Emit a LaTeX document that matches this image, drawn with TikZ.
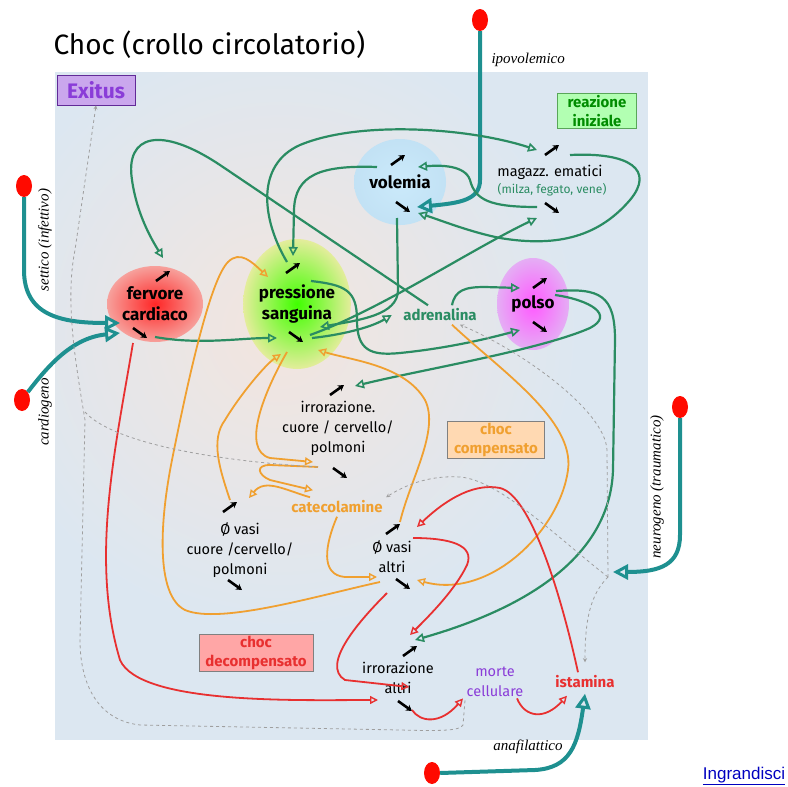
\documentclass[tikz,border=0pt]{standalone}
\usepackage{fontspec}
\setmainfont{Fira Sans}
\newfontfamily\causefont{Liberation Serif}
\newfontfamily\linkfont{Liberation Sans}
\usetikzlibrary{arrows.meta,shapes.geometric,positioning}

\definecolor{causecol}{HTML}{1E9090}
\definecolor{grn}{HTML}{2A8C62}
\definecolor{org}{HTML}{F0A030}
\definecolor{rd}{HTML}{E83030}
\definecolor{panel}{HTML}{DCE7F1}
\definecolor{warm}{HTML}{F3E5DE}
\definecolor{viol}{HTML}{8A3CD8}
\definecolor{sky}{HTML}{A8DCF8}

\tikzset{
  gline/.style={draw=grn, line width=2.2pt, -{Triangle[open,length=9pt,width=9pt,line width=1.6pt]}},
  oline/.style={draw=org, line width=1.8pt, -{Triangle[open,length=8pt,width=8pt,line width=1.4pt]}},
  rline/.style={draw=rd, line width=1.8pt, -{Triangle[open,length=8pt,width=8pt,line width=1.4pt]}},
  cause/.style={draw=causecol, line width=4pt, -{Triangle[open,length=15pt,width=15pt,line width=3pt]}},
  dline/.style={draw=gray!75, dashed, line width=0.8pt},
  dot/.style={ellipse, fill=red!92!orange, minimum width=16pt, minimum height=22pt, inner sep=0pt},
  updn/.style={line width=2.6pt, -{Stealth[length=6pt,width=7pt]}},
  blob/.style={ellipse, inner sep=0pt, font=\fontsize{17}{21}\selectfont\bfseries, align=center},
  lab/.style={font=\fontsize{14.5}{20}\selectfont, align=center},
  tagbox/.style={draw, line width=0.8pt, font=\fontsize{15}{19}\selectfont\bfseries, align=center, inner sep=2pt},
  causelab/.style={font=\causefont\itshape\fontsize{15}{17}\selectfont}
}

\begin{document}
\begin{tikzpicture}[x=1pt,y=-1pt]
\useasboundingbox (0,0) rectangle (788,787);

% background panel
\fill[panel] (55,72) rectangle (648,740);
\begin{scope}
  \clip (55,72) rectangle (648,740);
  \shade[inner color=warm, outer color=panel] (280,330) ellipse (300 and 300);
\end{scope}

\node[anchor=west, font=\fontsize{28}{32}\selectfont] (title) at (50,45) {Choc (crollo circolatorio)};

% boxes
\node[tagbox, fill=viol!45, draw=viol!70!black, text=viol, minimum width=78pt, minimum height=30pt,
      font=\fontsize{21}{24}\selectfont\bfseries] (exitus) at (96,90) {Exitus};
\node[tagbox, fill=green!30!white, draw=green!30!gray, text=green!55!black, minimum width=79pt] (reaz) at (597,111) {reazione\\iniziale};
\node[tagbox, fill=orange!30!white, draw=gray, text=org, minimum width=97pt] (comp) at (496,440) {choc\\compensato};
\node[tagbox, fill=red!35!white, draw=gray, text=rd, minimum width=114pt] (decomp) at (256,653) {choc\\decompensato};

% blobs
\node[blob, minimum width=92pt, minimum height=86pt, inner color=sky!60!white, outer color=sky!50!panel] (vol) at (400,182) {volemia};
\node[blob, minimum width=96pt, minimum height=76pt, inner color=red!85, outer color=red!30!warm] (fer) at (155,304) {fervore\\cardiaco};
\node[blob, minimum width=104pt, minimum height=130pt, inner color=green!75!yellow, outer color=green!25!yellow!30!warm] (ps) at (297,304) {pressione\\sanguina};
\node[blob, minimum width=72pt, minimum height=92pt, inner color=magenta!65, outer color=magenta!25!panel] (pol) at (533,304) {polso};

% plain labels
\node[lab] (mag) at (550,172) {magazz. ematici};
\node[lab, text=grn, font=\fontsize{12}{14}\selectfont] (magsub) at (552,190) {(milza, fegato, vene)};
\node[lab, text=grn, font=\fontsize{15}{18}\selectfont\bfseries] (adr) at (440,315) {adrenalina};
\node[lab] (irrc) at (338,428) {irrorazione.\\cuore / cervello/\\polmoni};
\node[lab, text=org, font=\fontsize{15}{18}\selectfont\bfseries] (cat) at (337,507) {catecolamine};
\node[lab] (vasc) at (240,550) {Ø vasi\\cuore /cervello/\\polmoni};
\node[lab] (vasa) at (392,557) {Ø vasi\\altri};
\node[lab] (irra) at (398,678) {irrorazione\\altri};
\node[lab, text=viol] (morte) at (495,682) {morte\\cellulare};
\node[lab, text=rd, font=\fontsize{15}{18}\selectfont\bfseries] (ist) at (585,682) {istamina};

% small up / down arrows
\foreach \n/\x/\y in {volUp/398/160, ferUp/163/276, psUp/293/268, polUp/540/283, magUp/552/150,
                      icUp/337/390, vcUp/230/507, vaUp/393/529, iaUp/410/651} {
  \coordinate (\n) at (\x,\y);
  \draw[updn] (\x-7,\y+5) -- (\x+7,\y-5);
}
\foreach \n/\x/\y in {volDn/403/207, ferDn/140/333, psDn/296/337, polDn/540/327, magDn/552/208,
                      icDn/340/473, vcDn/235/585, vaDn/403/584, iaDn/405/706} {
  \coordinate (\n) at (\x,\y);
  \draw[updn] (\x-7,\y-5) -- (\x+7,\y+5);
}

% causes
\node[dot] (ipDot) at (480,20) {};
\node[dot] (setDot) at (24,186) {};
\node[dot] (carDot) at (22,400) {};
\node[dot] (neuDot) at (680,407) {};
\node[dot] (anaDot) at (432,773) {};
\node[causelab, anchor=west] (ipLab) at (488,60) {ipovolemico};
\node[causelab, rotate=90] (setLab) at (45,240) {settico (infettivo)};
\node[causelab, rotate=90] (carLab) at (45,412) {cardiogeno};
\node[causelab, rotate=90] (neuLab) at (657,487) {neurogeno (traumatico)};
\node[causelab] (anaLab) at (528,747) {anafilattico};

\draw[cause] (ipDot.south) -- (480,180) .. controls (480,200) and (460,203) .. ([xshift=14pt]volDn);
\draw[cause] (setDot.south) -- (24,270) .. controls (24,315) and (60,323) .. (120,323);
\draw[cause] (carDot.north east) .. controls (45,370) and (70,338) .. (120,333);
\draw[cause] (neuDot.south) -- (680,535) .. controls (680,565) and (660,572) .. (613,572);
\draw[cause] (anaDot.east) -- (535,770) .. controls (570,768) and (578,745) .. ([yshift=-2pt]ist.south);

% green: reazione iniziale
\draw[gline] ([xshift=-12pt]adr.north) -- (220,165) .. controls (160,125) and (125,135) .. (132,180)
             .. controls (137,215) and (152,240) .. ([yshift=18pt]ferUp);
\draw[gline] ([xshift=-6pt,yshift=6pt]psUp) .. controls (262,220) and (255,165) .. (300,145)
             .. controls (360,120) and (470,128) .. ([xshift=-15pt]magUp);
\draw[gline] ([xshift=-21pt,yshift=-7pt]volUp) .. controls (320,165) and (295,175) .. (294,210) -- ([yshift=12pt]psUp);
\draw[gline] ([xshift=-15pt,yshift=1pt]magDn) .. controls (490,207) and (475,200) .. (470,180)
             .. controls (465,165) and (440,165) .. (418,167);
\draw[gline] ([xshift=18pt,yshift=-5pt]magUp) .. controls (630,152) and (655,170) .. (630,200)
             .. controls (600,235) and (560,248) .. (500,238) .. controls (470,232) and (440,220) .. (418,213);
\draw[gline] ([xshift=14pt,yshift=2pt]psDn) .. controls (380,310) and (470,250) .. ([xshift=-15pt,yshift=-10pt]magDn);
\draw[gline] ([xshift=-6pt,yshift=-11pt]volDn) -- (398,290) .. controls (398,315) and (360,320) .. ([xshift=24pt,yshift=10pt]psDn);
\draw[gline] ([xshift=16pt,yshift=-1pt]psDn) .. controls (340,335) and (370,328) .. ([xshift=-8pt]adr.west);
\draw[gline] ([xshift=15pt,yshift=-4pt]ferDn) .. controls (200,345) and (240,338) .. ([xshift=-19pt,yshift=-1pt]psDn);
\draw[gline] ([xshift=12pt]adr.north) .. controls (455,290) and (465,287) .. (485,287) -- ([xshift=-20pt,yshift=-5pt]polUp);
\draw[gline] (311,281) .. controls (345,285) and (357,290) .. (357,320) .. controls (357,350) and (370,356) .. (400,353)
             .. controls (450,348) and (490,338) .. ([xshift=-20pt,yshift=-3pt]polDn);
\draw[gline] ([xshift=15pt,yshift=-12pt]polUp) .. controls (590,300) and (615,315) .. (590,328)
             .. controls (540,350) and (420,370) .. ([xshift=18pt,yshift=4pt]icUp);
\draw[gline] ([xshift=16pt,yshift=-8pt]polUp) .. controls (600,288) and (615,295) .. (615,340) -- (613,470)
             .. controls (610,560) and (520,610) .. ([xshift=5pt,yshift=11pt]iaUp);

% orange: choc compensato
\draw[oline] ([xshift=12pt]adr.south) .. controls (500,370) and (575,420) .. (568,470)
             .. controls (560,530) and (490,600) .. ([xshift=14pt,yshift=4pt]vaDn);
\draw[oline] ([xshift=7pt,yshift=7pt]vaUp) .. controls (410,480) and (440,430) .. (425,400)
             .. controls (405,365) and (350,360) .. ([xshift=22pt,yshift=-13pt]psDn);
\draw[oline] ([xshift=-23pt,yshift=2pt]vaDn) .. controls (320,595) and (220,625) .. (185,610)
             .. controls (155,595) and (160,520) .. (172,460) .. controls (188,380) and (210,280) .. (228,262)
             .. controls (240,250) and (252,262) .. ([xshift=-25pt,yshift=-9pt]psUp);
\draw[oline] ([yshift=7pt]vcUp) .. controls (220,470) and (210,440) .. (225,420)
             .. controls (240,395) and (265,365) .. ([xshift=-15pt,yshift=-17pt]psDn);
\draw[oline] ([xshift=-9pt,yshift=-15pt]psDn) .. controls (265,390) and (240,450) .. (270,458) -- ([xshift=-27pt,yshift=11pt]icDn);
\draw[oline] ([xshift=-22pt,yshift=6pt]icDn) -- (270,465) .. controls (255,465) and (258,475) .. (270,480) -- ([xshift=-24pt,yshift=7pt]cat.north);
\draw[oline] ([xshift=-27pt]cat.north) .. controls (285,490) and (265,478) .. ([xshift=19pt,yshift=9pt]vcUp);
\draw[oline] (cat.south) .. controls (325,545) and (320,575) .. (345,577) -- ([xshift=-26pt,yshift=7pt]vaDn);

% red: choc decompensato
\draw[rline] ([xshift=-7pt,yshift=-10pt]ferDn) .. controls (115,450) and (90,560) .. (120,660)
             .. controls (140,705) and (300,700) .. ([xshift=-27pt,yshift=6pt]iaDn);
\draw[rline] ([xshift=-16pt,yshift=-9pt]vaDn) .. controls (360,620) and (320,665) .. (345,680) -- ([xshift=-28pt]irra.east |- 0,687);
\draw[rline] ([xshift=-7pt]ist.north) .. controls (560,590) and (530,495) .. (500,488)
             .. controls (470,482) and (440,505) .. ([xshift=24pt,yshift=2pt]vaUp);
\draw[rline] ([xshift=20pt,yshift=-9pt]vaUp) .. controls (450,538) and (475,545) .. (467,565)
             .. controls (455,590) and (430,615) .. ([yshift=16pt]iaUp);
\draw[rline] ([xshift=7pt,yshift=-4pt]iaDn) .. controls (420,722) and (440,725) .. ([xshift=-32pt,yshift=2pt]morte.south);
\draw[rline] ([xshift=22pt,yshift=2pt]morte.south) .. controls (525,718) and (545,720) .. ([xshift=-18pt,yshift=-4pt]ist.south);

% dashed: towards exitus / neurogeno
\draw[dline, -{Stealth[open,length=4pt,width=4pt]}] ([xshift=-30pt]morte.south) -- (463,725)
      .. controls (460,731) and (440,731) .. (400,730) -- (140,725)
      .. controls (95,720) and (80,680) .. (80,640) -- (85,420)
      .. controls (75,360) and (65,300) .. (75,250) -- (exitus.south);
\draw[dline] ([xshift=-22pt,yshift=6pt]icDn) .. controls (200,460) and (110,440) .. (85,412);
\coordinate (neuJ) at (608,577);
\draw[dline, -{Stealth[open,length=4pt,width=4pt]}] (neuJ) .. controls (590,595) and (585,620) .. ([yshift=10pt]ist.north);
\draw[dline, -{Stealth[open,length=4pt,width=4pt]}] (neuJ) -- (607,450) .. controls (605,410) and (520,350) .. ([xshift=20pt]adr.south);
\draw[dline, -{Stealth[open,length=4pt,width=4pt]}] (neuJ) .. controls (560,540) and (500,480) .. (460,477)
      .. controls (430,475) and (405,485) .. (cat.north east);

\node[font=\linkfont\fontsize{17}{19}\selectfont, text=blue!75!black] (link) at (744,776) {\underline{Ingrandisci}};
\end{tikzpicture}
\end{document}
